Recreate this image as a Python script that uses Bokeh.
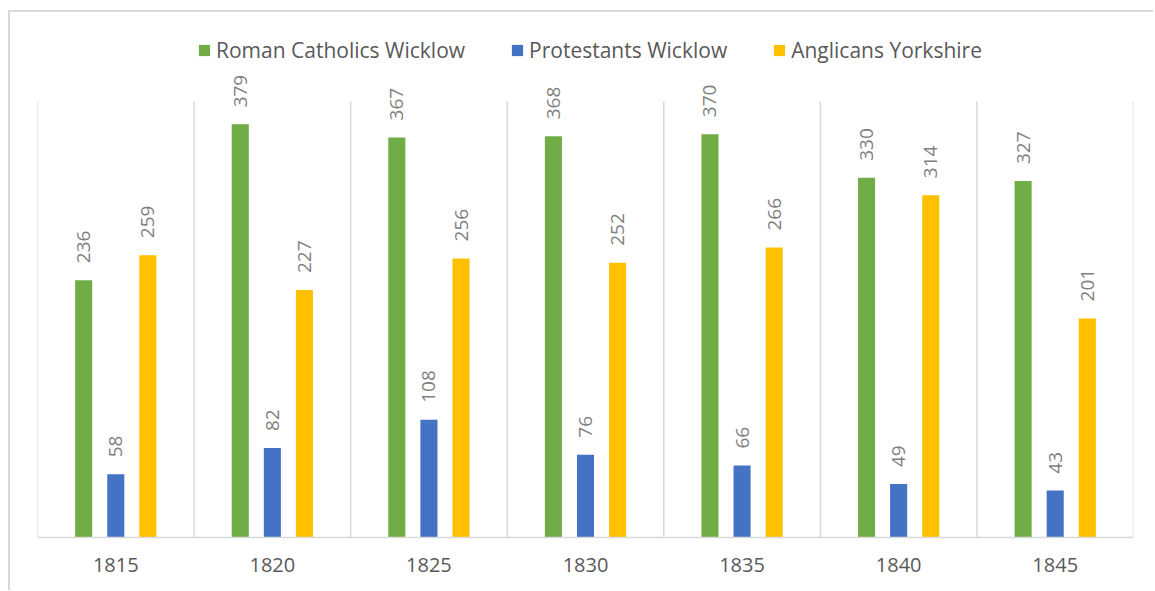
import numpy as np
from bokeh.plotting import figure
from bokeh.models import (ColumnDataSource, Range1d, FixedTicker, Legend, LegendItem,
                          LabelSet)
from bokeh.transform import dodge
from bokeh.core.properties import value
from bokeh.embed import file_html
from bokeh.resources import INLINE

years = ["1815", "1820", "1825", "1830", "1835", "1840", "1845"]
catholics_wicklow = [236, 379, 367, 368, 370, 330, 327]
protestants_wicklow = [58, 82, 108, 76, 66, 49, 43]
anglicans_yorkshire = [259, 227, 256, 252, 266, 314, 201]

series_names = ["Roman Catholics Wicklow", "Protestants Wicklow", "Anglicans Yorkshire"]
series_colors = ["#70ad47", "#4472c4", "#ffc000"]

value_axis_max = 400          # top of the value scale (where the separators end)
legend_room = 460.5           # extra headroom in the frame that holds the legend

x_centers = [i + 0.5 for i in range(len(years))]
src = ColumnDataSource(dict(
    x=x_centers,
    cath=catholics_wicklow,
    prot=protestants_wicklow,
    angl=anglicans_yorkshire,
    cath_t=[str(v) for v in catholics_wicklow],
    prot_t=[str(v) for v in protestants_wicklow],
    angl_t=[str(v) for v in anglicans_yorkshire],
))

p = figure(
    frame_width=1096, frame_height=502,
    x_range=Range1d(0, len(years)), y_range=Range1d(0, legend_room),
    output_backend="svg", toolbar_location=None,
    min_border_left=27, min_border_right=20, min_border_top=23, min_border_bottom=53,
)
p.margin = (10, 0, 0, 8)
p.styles = {"border-top": "2px solid #d9d9d9", "border-left": "2px solid #d9d9d9"}
p.outline_line_color = None
p.background_fill_color = "white"
p.border_fill_color = "white"

p.yaxis.visible = False
p.ygrid.visible = False
p.xgrid.visible = False

# category separators
bounds = list(range(len(years) + 1))
p.segment(x0=bounds, x1=bounds, y0=[0] * len(bounds), y1=[value_axis_max] * len(bounds),
          line_color="#d9d9d9", line_width=1.5)

xa = p.xaxis[0]
xa.ticker = FixedTicker(ticks=x_centers)
xa.major_label_overrides = {x: y for x, y in zip(x_centers, years)}
xa.major_tick_line_color = None
xa.minor_tick_line_color = None
xa.axis_line_color = "#d9d9d9"
xa.axis_line_width = 1.5
xa.major_label_text_font = "Open Sans"
xa.major_label_text_font_size = "20px"
xa.major_label_text_color = "#595959"
xa.major_label_standoff = 14

offsets = [-0.205, 0.0, 0.205]
cols = ["cath", "prot", "angl"]
renderers = []
for col, off, color in zip(cols, offsets, series_colors):
    r = p.vbar(x=dodge("x", off, range=p.x_range), top=col, width=0.109, bottom=0,
               source=src, fill_color=color, line_color=None)
    renderers.append(r)
    labels = LabelSet(x=dodge("x", off, range=p.x_range), y=col, text=col + "_t", source=src,
                      angle=np.pi / 2, text_align="left", text_baseline="middle",
                      y_offset=17, text_font=value("Open Sans"), text_font_size="19px",
                      text_color="#7f7f7f")
    p.add_layout(labels)

legend = Legend(
    items=[LegendItem(label=n, renderers=[r]) for n, r in zip(series_names, renderers)],
    orientation="horizontal", location=(160, 473),
    glyph_width=14, glyph_height=14, label_standoff=5, spacing=45, padding=0, margin=0,
    border_line_color=None, background_fill_alpha=0,
    label_text_font="Open Sans", label_text_font_size="21px", label_text_color="#595959",
)
p.add_layout(legend, "center")

open("out.html", "w").write(file_html(p, INLINE))
